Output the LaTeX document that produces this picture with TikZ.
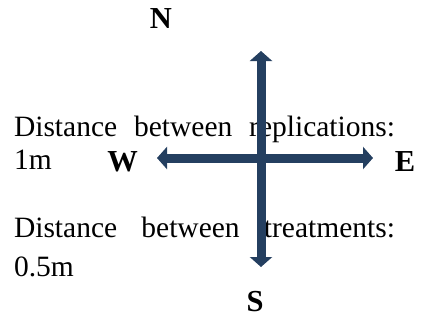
\documentclass[tikz,border=0pt]{standalone}
\usepackage{fontspec}
\setmainfont{Liberation Serif}
\usetikzlibrary{arrows.meta}
\definecolor{navy}{RGB}{36,63,96}
\tikzset{
  txt/.style={inner sep=0pt, outer sep=0pt, anchor=base west, font=\fontsize{29.5}{34}\selectfont},
  dir/.style={inner sep=0pt, outer sep=0pt, anchor=base, font=\fontsize{30.5}{34}\selectfont\bfseries},
  arr/.style={draw=navy, line width=9pt, {Triangle[length=10pt,width=22pt]}-{Triangle[length=10pt,width=22pt]}}
}
\begin{document}
\begin{tikzpicture}[x=1pt,y=-1pt]
\useasboundingbox (0,0) rectangle (423,322);
\node[txt] (l1) at (14,136) {\makebox[381pt][s]{Distance between replications:}};
\node[txt] (l2) at (14,169) {1m};
\node[txt] (l3) at (14,237) {\makebox[381pt][s]{Distance between treatments:}};
\node[txt] (l4) at (14,276) {0.5m};
\node[dir] (N) at (161,28) {N};
\node[dir] (S) at (255,311) {S};
\node[dir] (W) at (122.5,171) {W};
\node[dir] (E) at (405,171) {E};
\coordinate (n) at (261,51);
\coordinate (s) at (261,267);
\coordinate (w) at (157,158);
\coordinate (e) at (373,158);
\draw[arr] (w) -- (e);
\draw[arr] (s) -- (n);
\end{tikzpicture}
\end{document}
